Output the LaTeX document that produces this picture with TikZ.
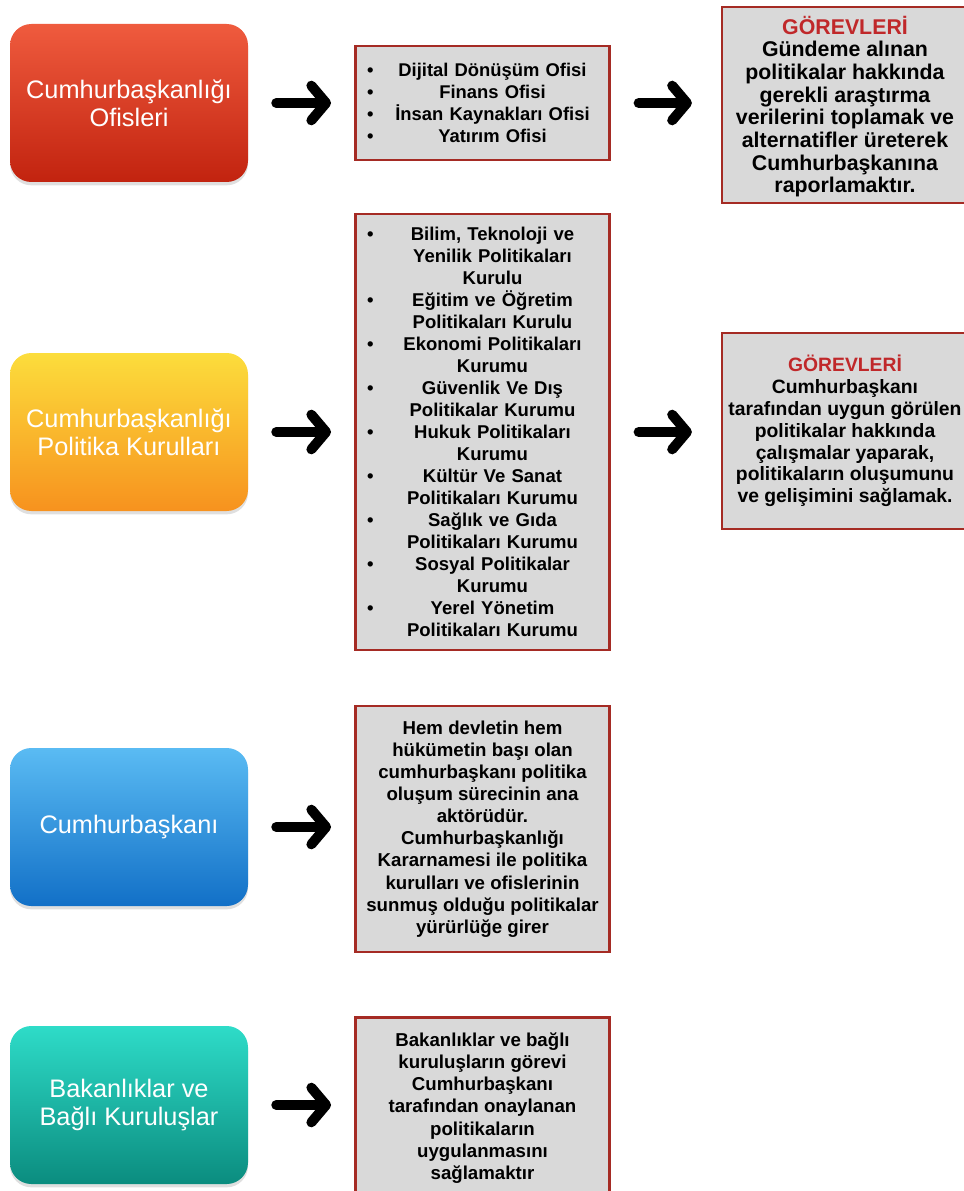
\documentclass[tikz,border=0pt]{standalone}
\usepackage{fontspec}
\setmainfont{Liberation Sans}
\usepackage{tikz}
\usetikzlibrary{arrows.meta,shadows}
\definecolor{boxred}{HTML}{A52B24}
\definecolor{boxgray}{HTML}{D9D9D9}
\definecolor{titlered}{HTML}{C0282A}
\definecolor{redtop}{HTML}{EF5B3E}
\definecolor{redbot}{HTML}{C2230F}
\definecolor{yeltop}{HTML}{FCDD3C}
\definecolor{yelbot}{HTML}{F7921E}
\definecolor{bluetop}{HTML}{5ABBF3}
\definecolor{bluebot}{HTML}{1270C7}
\definecolor{tealtop}{HTML}{2EDCC8}
\definecolor{tealbot}{HTML}{0B8C7F}
\tikzset{%
  colbox/.style={rounded corners=16pt,align=center,minimum width=178.5pt,minimum height=118.5pt,
    text=white,font=\fontsize{19}{21}\selectfont,
    drop shadow={opacity=0.25,shadow xshift=0pt,shadow yshift=-2.5pt}},
  infobox/.style={draw=boxred,line width=2.2pt,fill=boxgray,align=center,minimum width=190pt,
    inner sep=3pt,font=\bfseries\fontsize{14}{16.6}\selectfont},
  gorevbox/.style={infobox,minimum width=184.5pt,minimum height=147pt},
  tallarrow/.style={line width=7.5pt,line cap=round,-{Straight Barb[length=11pt,width=26pt,round]}}%
}
% list lines: bullet on the left, text centred beside it
\newcommand{\listitem}[1]{\makebox[15pt][l]{\hspace{2pt}\textbullet}\makebox[162pt]{#1}}
\newcommand{\listmore}[1]{\hspace*{15pt}\makebox[162pt]{#1}}

\begin{document}
\begin{tikzpicture}[x=0.75pt,y=-0.75pt]
\useasboundingbox (0,0) rectangle (963,1191);

% Left column
\node[colbox,top color=redtop,bottom color=redbot] (ofisler) at (129,103) {Cumhurbaşkanlığı\\Ofisleri};
\node[colbox,top color=yeltop,bottom color=yelbot] (kurullar) at (129,432) {Cumhurbaşkanlığı\\Politika Kurulları};
\node[colbox,top color=bluetop,bottom color=bluebot] (baskan) at (129,827) {Cumhurbaşkanı};
\node[colbox,top color=tealtop,bottom color=tealbot] (bakanlik) at (129,1105) {Bakanlıklar ve\\Bağlı Kuruluşlar};

% Middle column
\node[infobox,minimum height=85.5pt,text width=177pt,align=left,font=\bfseries\fontsize{13.8}{16.5}\selectfont] (ofislist) at (482.5,103) {%
  \listitem{Dijital Dönüşüm Ofisi}\\
  \listitem{Finans Ofisi}\\
  \listitem{İnsan Kaynakları Ofisi}\\
  \listitem{Yatırım Ofisi}};
\node[infobox,minimum height=327pt,text width=177pt,align=left,font=\bfseries\fontsize{13.9}{16.5}\selectfont] (kurullist) at (482.5,432) {%
  \listitem{Bilim, Teknoloji ve}\\ \listmore{Yenilik Politikaları}\\ \listmore{Kurulu}\\
  \listitem{Eğitim ve Öğretim}\\ \listmore{Politikaları Kurulu}\\
  \listitem{Ekonomi Politikaları}\\ \listmore{Kurumu}\\
  \listitem{Güvenlik Ve Dış}\\ \listmore{Politikalar Kurumu}\\
  \listitem{Hukuk Politikaları}\\ \listmore{Kurumu}\\
  \listitem{Kültür Ve Sanat}\\ \listmore{Politikaları Kurumu}\\
  \listitem{Sağlık ve Gıda}\\ \listmore{Politikaları Kurumu}\\
  \listitem{Sosyal Politikalar}\\ \listmore{Kurumu}\\
  \listitem{Yerel Yönetim}\\ \listmore{Politikaları Kurumu}};
\node[infobox,minimum height=184.5pt] (baskantext) at (482.5,829) {Hem devletin hem\\hükümetin başı olan\\cumhurbaşkanı politika\\oluşum sürecinin ana\\aktörüdür.\\Cumhurbaşkanlığı\\Kararnamesi ile politika\\kurulları ve ofislerinin\\sunmuş olduğu politikalar\\yürürlüğe girer};
\node[infobox,minimum height=136pt] (bakanliktext) at (482.5,1108) {Bakanlıklar ve bağlı\\kuruluşların görevi\\Cumhurbaşkanı\\tarafından onaylanan\\politikaların\\uygulanmasını\\sağlamaktır};

% Right column (runs past the right edge)
\node[gorevbox,font=\bfseries\fontsize{16}{17}\selectfont] (ofisgorev) at (845,105) {\rule{0pt}{16pt}\textcolor{titlered}{GÖREVLERİ}\\Gündeme alınan\\politikalar hakkında\\gerekli araştırma\\verilerini toplamak ve\\alternatifler üreterek\\Cumhurbaşkanına\\raporlamaktır.};
\node[gorevbox,font=\bfseries\fontsize{14.5}{16.4}\selectfont] (kurulgorev) at (845,431) {\textcolor{titlered}{GÖREVLERİ}\\Cumhurbaşkanı\\tarafından uygun görülen\\politikalar hakkında\\çalışmalar yaparak,\\politikaların oluşumunu\\ve gelişimini sağlamak.};

% Arrows
\draw[tallarrow] ([xshift=21pt]ofisler.east) -- ([xshift=-17.5pt]ofislist.west);
\draw[tallarrow] ([xshift=21pt]ofislist.east) -- ([xshift=-21.5pt]ofisgorev.west |- ofislist.west);
\draw[tallarrow] ([xshift=21pt]kurullar.east) -- ([xshift=-17.5pt]kurullist.west);
\draw[tallarrow] ([xshift=21pt]kurullist.east) -- ([xshift=-21.5pt]kurulgorev.west |- kurullist.west);
\draw[tallarrow] ([xshift=21pt]baskan.east) -- ([xshift=-17.5pt]baskantext.west |- baskan.east);
\draw[tallarrow] ([xshift=21pt]bakanlik.east) -- ([xshift=-17.5pt]bakanliktext.west |- bakanlik.east);

\end{tikzpicture}
\end{document}
